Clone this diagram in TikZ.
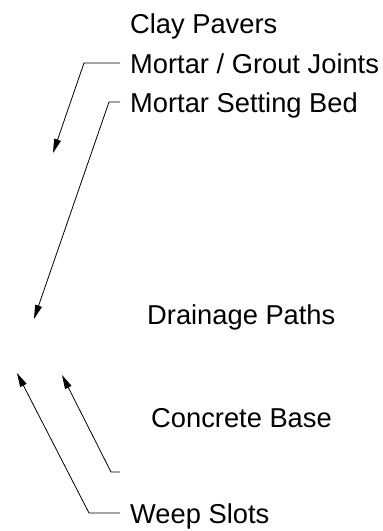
\documentclass[tikz,border=0pt]{standalone}
\usepackage{fontspec}
\setmainfont{Liberation Sans}
\usetikzlibrary{arrows.meta}
\begin{document}
\begin{tikzpicture}[x=1pt,y=-1pt,
  lbl/.style={anchor=base west,inner sep=0pt,font=\fontsize{27.3}{30}\selectfont},
  leader/.style={draw=black,line width=0.8pt,-{Triangle[length=14pt,width=7pt]}}]
\useasboundingbox (0,0) rectangle (383,531);
\node[lbl] (cp) at (130,33) {Clay Pavers};
\node[lbl] (mg) at (130,73) {Mortar / Grout Joints};
\node[lbl] (ms) at (130,112) {Mortar Setting Bed};
\node[lbl] (dp) at (147,324) {Drainage Paths};
\node[lbl] (cb) at (151,427) {Concrete Base};
\node[lbl] (ws) at (130,523) {Weep Slots};
% leader points
\coordinate (mg0) at (120,63);
\coordinate (mg1) at (84,63);
\coordinate (mgt) at (53,153);
\coordinate (ms0) at (120,102);
\coordinate (ms1) at (109,102);
\coordinate (mst) at (34,319);
\coordinate (ws0) at (120,513);
\coordinate (ws1) at (89,513);
\coordinate (wst) at (17,373);
\coordinate (cb0) at (120,472);
\coordinate (cb1) at (111,472);
\coordinate (cbt) at (62,375);
\draw[leader] (mg0) -- (mg1) -- (mgt);
\draw[leader] (ms0) -- (ms1) -- (mst);
\draw[leader] (ws0) -- (ws1) -- (wst);
\draw[leader] (cb0) -- (cb1) -- (cbt);
\end{tikzpicture}
\end{document}
